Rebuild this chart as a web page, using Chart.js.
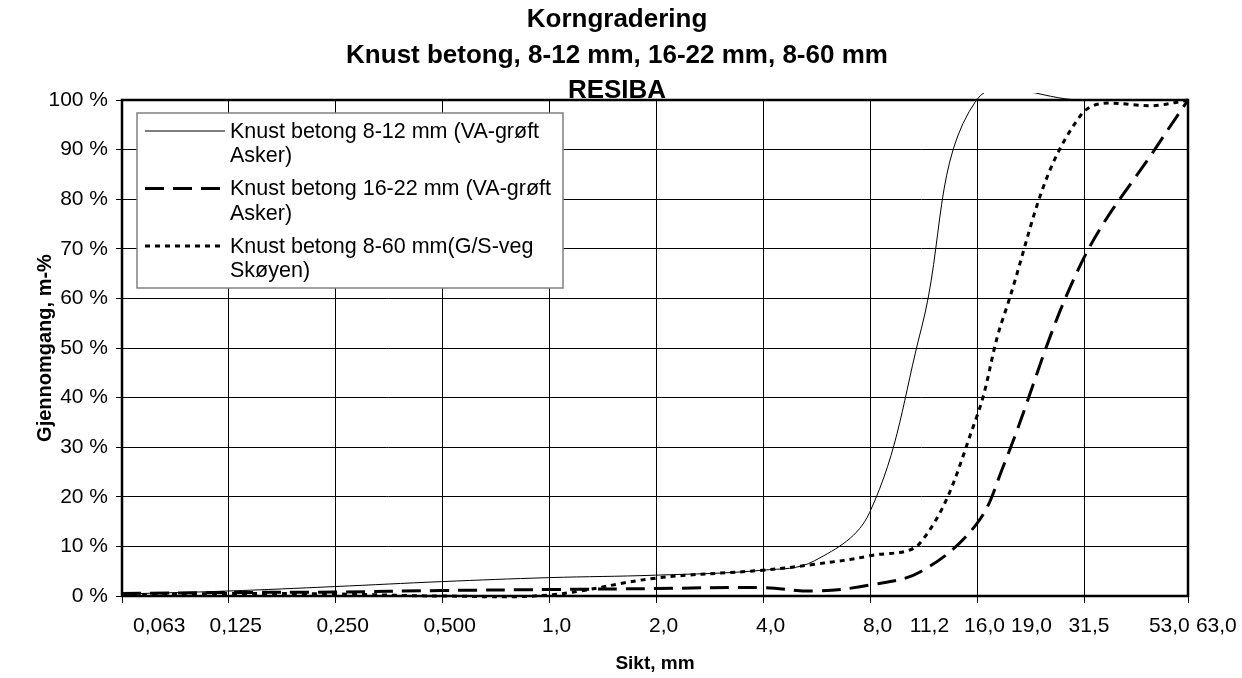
<!DOCTYPE html>
<html>
<head>
<meta charset="utf-8">
<script src="https://cdn.jsdelivr.net/npm/chart.js@4.4.1/dist/chart.umd.min.js"></script>
<style>
  html, body { margin: 0; padding: 0; background: #fff; }
</style>
</head>
<body>
<canvas id="chart" width="1242" height="678"></canvas>
<script>
// Siktdata (mm) og gjennomgang (m-%)
const sieves = [0.063, 0.125, 0.25, 0.5, 1, 2, 4, 5.6, 8, 11.2, 16, 19, 31.5, 53, 63];
const pass8to12 = [0.4, 1.0, 1.9, 2.9, 3.7, 4.2, 5.2, 7.1, 16.8, 54, 100, null, 100, 100, 100];
const pass16to22 = [0.5, 0.7, 0.8, 1.1, 1.3, 1.5, 1.7, 1.0, 2.2, 5, 14.5, 26, 67, 92, 100];
const pass8to60 = [0.2, 0.5, 0.4, 0.0, 0.2, 3.6, 5.2, 6.4, 8.1, 11, 36, 56, 97, 99, 100];

// Etiketter under x-aksen (tekstboks i originalen)
const tickValues = [0.063, 0.125, 0.25, 0.5, 1, 2, 4, 8, 11.2, 16, 19, 31.5, 53, 63];
const tickLabels = ["0,063", "0,125", "0,250", "0,500", "1,0", "2,0", "4,0", "8,0", "11,2", "16,0", "19,0", "31,5", "53,0", "63,0"];
const gridSteps = [0.063, 0.126, 0.252, 0.504, 1.008, 2.016, 4.032, 8.064, 16.128, 32.256, 63];
const yTicks = [0, 10, 20, 30, 40, 50, 60, 70, 80, 90, 100];

const seriesNames = [
  ["Knust betong 8-12 mm (VA-grøft", "Asker)"],
  ["Knust betong 16-22 mm (VA-grøft", "Asker)"],
  ["Knust betong 8-60 mm(G/S-veg", "Skøyen)"],
];
const titleLines = ["Korngradering", "Knust betong, 8-12 mm, 16-22 mm, 8-60 mm", "RESIBA"];

const FONT = "'Liberation Sans', Arial, sans-serif";
Chart.defaults.font.family = FONT;
Chart.defaults.color = "#000";

function series(i, values, width, dash) {
  return {
    label: seriesNames[i].join(" "),
    lines: seriesNames[i],
    data: sieves.map((x, k) => ({ x, y: values[k] })),
    borderColor: "#000",
    borderWidth: width,
    borderDash: dash,
    pointRadius: 0,
    tension: 0.38,
    capBezierPoints: false,
    spanGaps: true,
    clip: { left: 0, top: 7, right: 0, bottom: 4 },
  };
}

// ---------- Tittel ----------
const titleBlock = {
  id: "titleBlock",
  afterDraw(chart) {
    const { ctx } = chart;
    ctx.save();
    ctx.font = "bold 26px " + FONT;
    ctx.fillStyle = "#000";
    ctx.textAlign = "center";
    ctx.textBaseline = "middle";
    titleLines.forEach((t, i) => ctx.fillText(t, 617, 20 + i * 35.5));
    ctx.restore();
  },
};

// ---------- Egen tegnforklaring ----------
const boxLegend = {
  id: "boxLegend",
  afterDatasetsDraw(chart) {
    const { ctx, chartArea } = chart;
    const x0 = chartArea.left + 15,
      y0 = chartArea.top + 13;
    ctx.save();
    ctx.fillStyle = "#fff";
    ctx.fillRect(x0, y0, 426, 175);
    ctx.strokeStyle = "#808080";
    ctx.lineWidth = 1.5;
    ctx.strokeRect(x0, y0, 426, 175);
    ctx.font = "21.5px " + FONT;
    ctx.textBaseline = "middle";
    chart.data.datasets.forEach((d, i) => {
      const y = y0 + 18 + i * 57.5;
      ctx.beginPath();
      ctx.setLineDash(d.borderDash || []);
      ctx.lineWidth = d.borderWidth;
      ctx.strokeStyle = d.borderColor;
      ctx.moveTo(x0 + 8, y);
      ctx.lineTo(x0 + 88, y);
      ctx.stroke();
      ctx.setLineDash([]);
      ctx.fillStyle = "#000";
      d.lines.forEach((t, j) => ctx.fillText(t, x0 + 93, y + 1 + j * 24.5));
    });
    ctx.restore();
  },
};

// ---------- Ramme og siktetiketter ----------
const frameAndLabels = {
  id: "frameAndLabels",
  afterDraw(chart) {
    const { ctx, chartArea } = chart;
    const xs = chart.scales.x;
    ctx.save();
    ctx.strokeStyle = "#000";
    ctx.lineWidth = 2.5;
    ctx.strokeRect(chartArea.left, chartArea.top, chartArea.right - chartArea.left, chartArea.bottom - chartArea.top);

    ctx.font = "21px " + FONT;
    ctx.fillStyle = "#000";
    ctx.textAlign = "center";
    ctx.textBaseline = "middle";
    let last = -Infinity;
    tickValues.forEach((v, i) => {
      const w = ctx.measureText(tickLabels[i]).width;
      let px = xs.getPixelForValue(v) + 8;
      px = Math.max(px, chartArea.left + w / 2 + 11, last + 47); // hold etikettene fra hverandre
      ctx.fillText(tickLabels[i], px, chartArea.bottom + 30);
      last = px;
    });
    ctx.restore();
  },
};

new Chart(document.getElementById("chart"), {
  type: "line",
  data: {
    datasets: [
      series(0, pass8to12, 1, []),
      series(1, pass16to22, 3, [19, 9]),
      series(2, pass8to60, 3, [5, 5]),
    ],
  },
  options: {
    responsive: false,
    animation: false,
    layout: { padding: { left: 0, right: 54, top: 100, bottom: 0 } },
    plugins: {
      legend: { display: false },
      tooltip: { enabled: false },
      title: { display: false },
    },
    scales: {
      x: {
        type: "logarithmic",
        min: 0.063,
        max: 63,
        afterBuildTicks: (s) => {
          s.ticks = gridSteps.map((v) => ({ value: v }));
        },
        afterFit: (s) => {
          s.height = 82;
        },
        grid: { color: "#000", lineWidth: 1, tickLength: 7, tickColor: "#000" },
        border: { display: false },
        ticks: { display: false },
        title: {
          display: true,
          text: "Sikt, mm",
          font: { size: 19, weight: "bold" },
          padding: { top: 0, bottom: 3 },
        },
      },
      y: {
        min: 0,
        max: 100,
        afterBuildTicks: (s) => {
          s.ticks = yTicks.map((v) => ({ value: v }));
        },
        afterFit: (s) => {
          s.width = 122;
        },
        grid: { color: "#000", lineWidth: 1, tickLength: 6, tickColor: "#000" },
        border: { display: false },
        ticks: { font: { size: 21 }, padding: 8, callback: (v) => v + " %" },
        title: {
          display: true,
          text: "Gjennomgang, m-%",
          font: { size: 20, weight: "bold" },
          padding: { top: 33, bottom: 0 },
        },
      },
    },
  },
  plugins: [titleBlock, boxLegend, frameAndLabels],
});
</script>
</body>
</html>
